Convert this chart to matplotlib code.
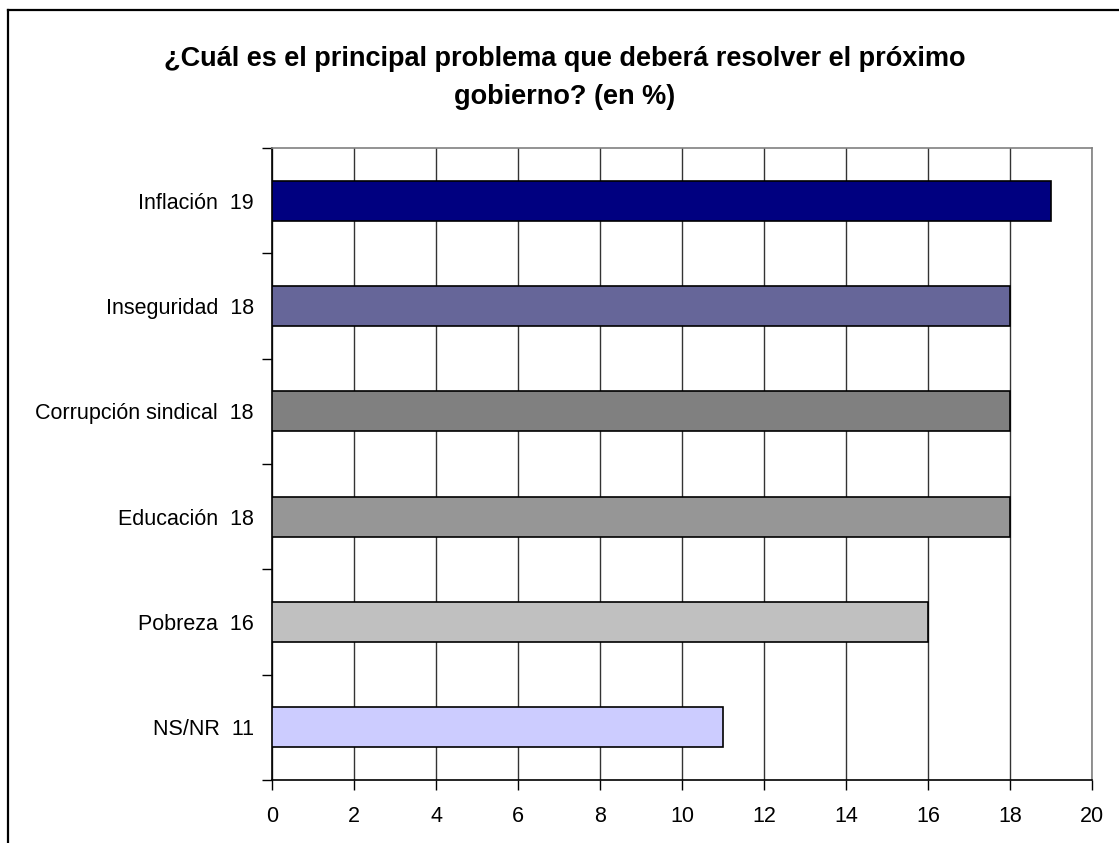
import matplotlib.pyplot as plt
from matplotlib.lines import Line2D

# data (top to bottom)
categories = ['Inflación', 'Inseguridad', 'Corrupción sindical', 'Educación', 'Pobreza', 'NS/NR']
values = [19, 18, 18, 18, 16, 11]
colors = ['#000080', '#666699', '#808080', '#969696', '#C0C0C0', '#CCCCFF']
xticks = list(range(0, 21, 2))

plt.rcParams['font.family'] = ['Liberation Sans', 'DejaVu Sans']

fig = plt.figure(figsize=(11.19, 8.43), dpi=100)
ax = fig.add_axes([0.2431, 0.0747, 0.7328, 0.7497])

ypos = list(range(len(categories)))[::-1]
ax.barh(ypos, values, height=0.38, color=colors, edgecolor='black', linewidth=1.2, zorder=3)

labels = ['%s  %d' % (c, v) for c, v in zip(categories, values)]
ax.set_yticks(ypos)
ax.set_yticklabels(labels, fontsize=15.5)
ax.tick_params(axis='y', length=0, pad=13)
# tick marks between categories
ax.set_yticks([i - 0.5 for i in range(len(categories) + 1)], minor=True)
ax.tick_params(axis='y', which='minor', length=7, width=1, direction='out')

ax.set_xlim(0, 20)
ax.set_ylim(-0.5, len(categories) - 0.5)
ax.set_xticks(xticks)
ax.tick_params(axis='x', labelsize=15.5, length=7, width=1, direction='out', pad=12)
ax.xaxis.grid(True, color='#333333', linewidth=1, zorder=0)
ax.set_axisbelow(True)

for s in ['top', 'right']:
    ax.spines[s].set_color('#808080')
    ax.spines[s].set_linewidth(1.2)
for s in ['left', 'bottom']:
    ax.spines[s].set_color('black')
    ax.spines[s].set_linewidth(1.2)

fig.text(0.505, 1 - 78 / 843, '¿Cuál es el principal problema que deberá resolver el próximo\ngobierno? (en %)',
         ha='center', va='center', fontsize=19.5, fontweight='bold', linespacing=1.55)

# outer chart border (cut off at right and bottom)
fig.add_artist(Line2D([8 / 1119, 8 / 1119], [0, 1 - 10 / 843], color='black', linewidth=1.6,
                      transform=fig.transFigure))
fig.add_artist(Line2D([8 / 1119, 1], [1 - 10 / 843, 1 - 10 / 843], color='black', linewidth=1.6,
                      transform=fig.transFigure))

fig.savefig('out.png', dpi=100)
